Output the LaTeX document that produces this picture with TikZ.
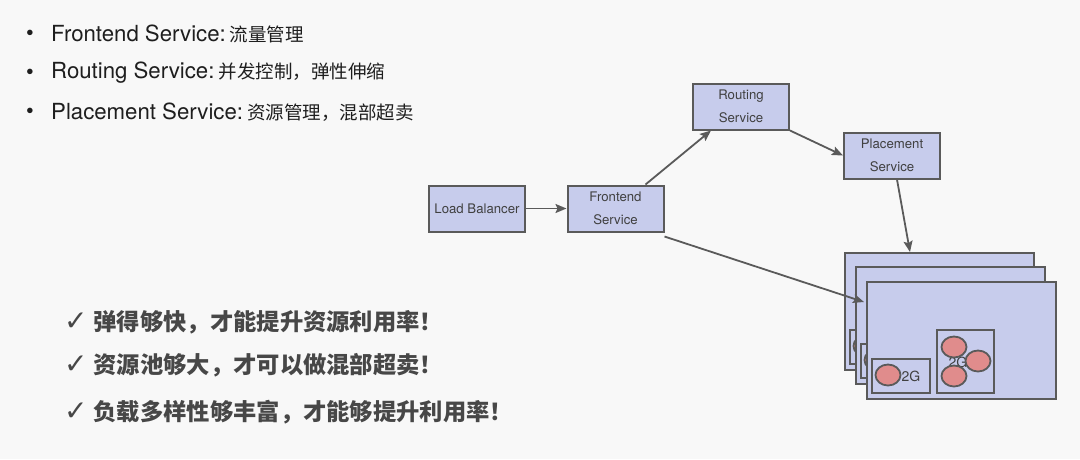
\documentclass[tikz,border=0pt]{standalone}
\usepackage{fontspec}
\setmainfont{TeX Gyre Heros}
\newfontfamily\cjk{Noto Sans CJK SC}
\newfontfamily\symf{DejaVu Sans}
\usetikzlibrary{arrows.meta,shapes.geometric}
\definecolor{bg}{HTML}{F8F8F8}
\definecolor{boxfill}{HTML}{C7CCEC}
\definecolor{boxline}{HTML}{5A5A5A}
\definecolor{salmon}{HTML}{E08C8C}
\definecolor{txt}{HTML}{1E1E1E}
\definecolor{chk}{HTML}{474747}
\tikzset{
  svc/.style={draw=boxline, fill=boxfill, line width=2pt, minimum width=96pt, minimum height=46pt, inner sep=0pt, align=center, font=\fontsize{13.2}{23}\selectfont, text=txt!85},
  arr/.style={draw=boxline, line width=1.8pt, -{Stealth[length=11pt,width=9pt,inset=2pt]}},
  bul/.style={anchor=west, inner sep=0pt, text=txt},
  chkline/.style={anchor=west, inner sep=0pt, text=chk},
  cardbox/.style={draw=boxline, fill=boxfill, line width=2pt},
  inbox/.style={draw=boxline, line width=2pt},
  pod/.style={draw=boxline, fill=salmon, line width=1.8pt},
}
\begin{document}
\begin{tikzpicture}[x=1pt,y=-1pt]
\fill[bg] (0,0) rectangle (1080,459);
\useasboundingbox (0,0) rectangle (1080,459);

% bullet list
\foreach \yy/\nm in {35/b1,74/b2,113/b3}{
  \node[inner sep=0pt, text=txt, font=\fontsize{22}{22}\selectfont] (\nm dot) at (30,\yy) {•};
}
\node[bul] (b1) at (51,34) {\fontsize{22.2}{24}\selectfont Frontend Service:\hspace{4pt}\cjk\fontsize{18.5}{24}\selectfont 流量管理};
\node[bul] (b2) at (51,73) {\fontsize{22.2}{24}\selectfont Routing Service:\hspace{4pt}\cjk\fontsize{18.5}{24}\selectfont 并发控制，弹性伸缩};
\node[bul] (b3) at (51,112) {\fontsize{22.2}{24}\selectfont Placement Service:\hspace{4pt}\cjk\fontsize{18.5}{24}\selectfont 资源管理，混部超卖};

% check list
\node[chkline] (c1) at (64,322) {{\symf\fontsize{28}{28}\selectfont ✓}\hspace{6pt}{\cjk\bfseries\fontsize{23.3}{26}\selectfont 弹得够快，才能提升资源利用率！}};
\node[chkline] (c2) at (64,365) {{\symf\fontsize{28}{28}\selectfont ✓}\hspace{6pt}{\cjk\bfseries\fontsize{23.3}{26}\selectfont 资源池够大，才可以做混部超卖！}};
\node[chkline] (c3) at (64,412) {{\symf\fontsize{28}{28}\selectfont ✓}\hspace{6pt}{\cjk\bfseries\fontsize{23.3}{26}\selectfont 负载多样性够丰富，才能够提升利用率！}};

% services
\node[svc] (lb) at (477,208.5) {Load Balancer};
\node[svc] (fe) at (615.5,208.5) {Frontend\\Service};
\node[svc] (rs) at (741,106.5) {Routing\\Service};
\node[svc] (ps) at (892,155.5) {Placement\\Service};

% cards (back to front)
\foreach \dx/\dy/\nm in {-22/-29/cardA, -11/-15/cardB, 0/0/cardC}{
  \begin{scope}[shift={(\dx,\dy)}]
    \node[cardbox, minimum width=189pt, minimum height=117pt, anchor=north west, inner sep=0pt] (\nm) at (866,281) {};
    \node[inbox, minimum width=58pt, minimum height=34pt, anchor=north west, inner sep=0pt] (\nm s) at (871,358) {};
    \filldraw[pod] (888,375) ellipse [x radius=12.5, y radius=10.5];
    \node[inner sep=0pt, text=txt!85, font=\fontsize{14}{14}\selectfont] (\nm t) at (911,376) {2G};
    \node[inbox, minimum width=57pt, minimum height=63pt, anchor=north west, inner sep=0pt] (\nm b) at (936,329) {};
    \node[inner sep=0pt, text=txt!85, font=\fontsize{14}{14}\selectfont] (\nm u) at (958,362) {2G};
    \filldraw[pod] (954,347) ellipse [x radius=12.5, y radius=10.5];
    \filldraw[pod] (978,361) ellipse [x radius=12.5, y radius=10.5];
    \filldraw[pod] (954,376) ellipse [x radius=12.5, y radius=10.5];
  \end{scope}
}
\coordinate (topin) at (910,252);
\coordinate (sidein) at (864,302);

% connectors
\draw[arr] (lb) -- (fe);
\draw[arr] ([xshift=30pt]fe.north) -- ([xshift=19pt]rs.south west);
\draw[arr] (rs.south east) -- (ps.west);
\draw[arr] ([xshift=5pt]ps.south) -- (topin);
\draw[arr] ([yshift=-4pt]fe.south east) -- (sidein);
\end{tikzpicture}
\end{document}
